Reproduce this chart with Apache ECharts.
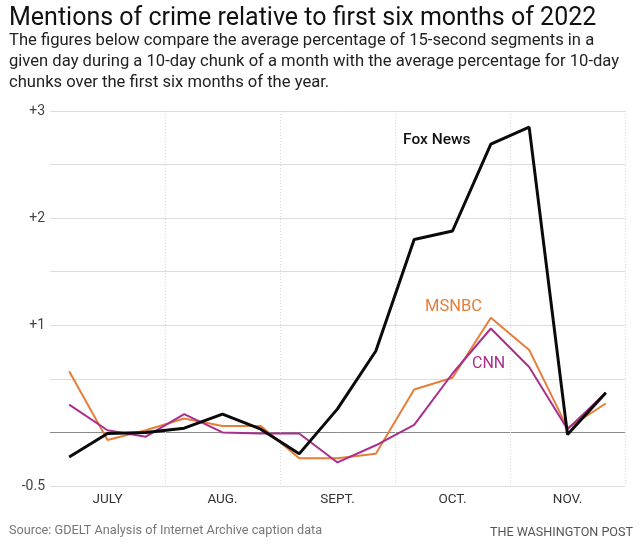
<!DOCTYPE html>
<html>
<head>
<meta charset="utf-8">
<script src="https://cdn.jsdelivr.net/npm/echarts@6/dist/echarts.min.js"></script>
<style>
html,body{margin:0;padding:0;background:#fff;}
#chart{width:640px;height:544px;}
</style>
</head>
<body>
<div id="chart"></div>
<script>
// 10-day chunks, three per month, July–November 2022
const periods = ['Jul 1-10','Jul 11-20','Jul 21-31','Aug 1-10','Aug 11-20','Aug 21-31',
  'Sep 1-10','Sep 11-20','Sep 21-30','Oct 1-10','Oct 11-20','Oct 21-31',
  'Nov 1-10','Nov 11-20','Nov 21-30'];
const monthLabels = ['JULY','AUG.','SEPT.','OCT.','NOV.'];
const foxNews = [-0.23,-0.01,0.0,0.04,0.17,0.03,-0.2,0.22,0.76,1.80,1.88,2.69,2.85,-0.02,0.37];
const msnbc   = [0.57,-0.07,0.02,0.13,0.06,0.06,-0.24,-0.24,-0.20,0.40,0.51,1.07,0.77,0.04,0.27];
const cnn     = [0.26,0.02,-0.04,0.17,0.0,-0.01,-0.01,-0.28,-0.12,0.07,0.55,0.97,0.61,0.03,0.37];
const yTicks = {'-0.5':'-0.5','1':'+1','2':'+2','3':'+3'};

const FONT = 'Roboto, "Liberation Sans", sans-serif';
const chart = echarts.init(document.getElementById('chart'), null, {renderer:'canvas'});
const gridColors = ['#dcdcdc','#8a8a8a','#dcdcdc','#dcdcdc','#dcdcdc','#dcdcdc','#dcdcdc','#dcdcdc'];

chart.setOption({
  backgroundColor:'#fff',
  animation:false,
  title:[
    {text:'Mentions of crime relative to first six months of 2022', left:4, top:1,
     textStyle:{fontFamily:FONT, fontSize:25, fontWeight:'normal', color:'#111'}},
    {text:'The figures below compare the average percentage of 15-second segments in a\ngiven day during a 10-day chunk of a month with the average percentage for 10-day\nchunks over the first six months of the year.',
     left:4, top:25,
     textStyle:{fontFamily:FONT, fontSize:16.6, fontWeight:'normal', color:'#222', lineHeight:21}},
    {text:'Source: GDELT Analysis of Internet Archive caption data', left:4, top:519,
     textStyle:{fontFamily:FONT, fontSize:12.7, fontWeight:'normal', color:'#777'}},
    {text:'THE WASHINGTON POST', right:2, top:521,
     textStyle:{fontFamily:FONT, fontSize:12.6, fontWeight:'normal', color:'#555'}}
  ],
  grid:{left:50, right:15, top:111, bottom:58},
  xAxis:{
    type:'category', data:periods, boundaryGap:true,
    axisLine:{show:false}, axisTick:{show:false},
    axisLabel:{interval:0, margin:7, color:'#333', fontFamily:FONT, fontSize:13.5,
      formatter:(v,i)=> i%3===1 ? monthLabels[Math.floor(i/3)] : ''},
    splitLine:{show:true, interval:(i)=> i>0 && i%3===0,
      lineStyle:{color:'#d8d8d8', type:[1,2], width:1}}
  },
  yAxis:{
    type:'value', min:-0.5, max:3, interval:0.5,
    axisLine:{show:false}, axisTick:{show:false},
    axisLabel:{margin:5, color:'#444', fontFamily:FONT, fontSize:14,
      formatter:(v)=> yTicks[String(v)] || ''},
    splitLine:{show:true, lineStyle:{color:gridColors, width:1}}
  },
  series:[
    {name:'MSNBC', type:'line', data:msnbc, symbol:'none', lineStyle:{color:'#e67e3a', width:2}, z:2},
    {name:'CNN', type:'line', data:cnn, symbol:'none', lineStyle:{color:'#a82f8e', width:2}, z:3},
    {name:'Fox News', type:'line', data:foxNews, symbol:'none', lineStyle:{color:'#0a0a0a', width:3}, z:4}
  ],
  graphic:[
    {type:'text', left:403, top:132, style:{text:'Fox News', font:'500 15.5px '+FONT, fill:'#111'}},
    {type:'text', left:425, top:298, style:{text:'MSNBC', font:'16.5px '+FONT, fill:'#e67e3a'}},
    {type:'text', left:472, top:356, style:{text:'CNN', font:'16px '+FONT, fill:'#a82f8e'}}
  ]
});
</script>
</body>
</html>
